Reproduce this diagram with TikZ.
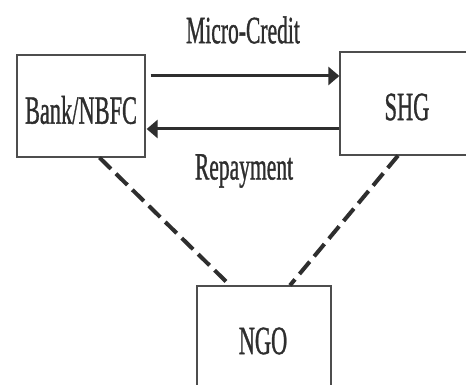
\documentclass[tikz,border=0pt]{standalone}
\usepackage{fontspec}
\setmainfont{Liberation Serif}
\newfontfamily\heavy[FakeBold=1.2]{Liberation Serif}
\usetikzlibrary{arrows.meta}
\definecolor{ink}{HTML}{2E2E2E}
\newcommand{\sqz}[1]{\scalebox{0.56}[1]{#1}}
\tikzset{
  box/.style={draw=ink!85, line width=1.3pt, inner sep=0pt},
  txt/.style={inner sep=0pt, text=ink, font=\heavy\fontsize{40}{40}\selectfont},
  lbl/.style={inner sep=0pt, text=ink, font=\heavy\fontsize{38.5}{38.5}\selectfont},
  flow/.style={draw=ink, line width=3pt, -{Triangle[length=11pt,width=18pt]}},
  link/.style={draw=ink, line width=4pt, dash pattern=on 16pt off 7pt}
}
\begin{document}
\begin{tikzpicture}[x=1pt, y=-1pt]
\useasboundingbox[fill=white] (0,0) rectangle (466,385);
\node[box, minimum width=128pt, minimum height=102pt] (bank) at (81,106) {};
\node[txt] (bankt) at (81,110) {\sqz{Bank/NBFC}};
\node[box, minimum width=130pt, minimum height=103pt] (shg) at (405,103.5) {};
\node[txt] (shgt) at (407,107) {\sqz{SHG}};
\node[box, minimum width=134pt, minimum height=106pt] (ngo) at (264,339) {};
\node[txt] (ngot) at (263,341) {\sqz{NGO}};
\node[lbl] (mc) at (243,30) {\sqz{Micro-Credit}};
\node[lbl] (rp) at (244,171) {\sqz{Repayment}};
\draw[flow] ([xshift=5pt]bank.east |- 0,76) -- (shg.west |- 0,76);
\draw[flow] (shg.west |- 0,129) -- ([xshift=1pt]bank.east |- 0,129);
\draw[link] ([xshift=18.5pt]bank.south) -- ([xshift=-34pt]ngo.north);
\draw[link] ([xshift=-7pt]shg.south) -- ([xshift=26pt]ngo.north);
\end{tikzpicture}
\end{document}
